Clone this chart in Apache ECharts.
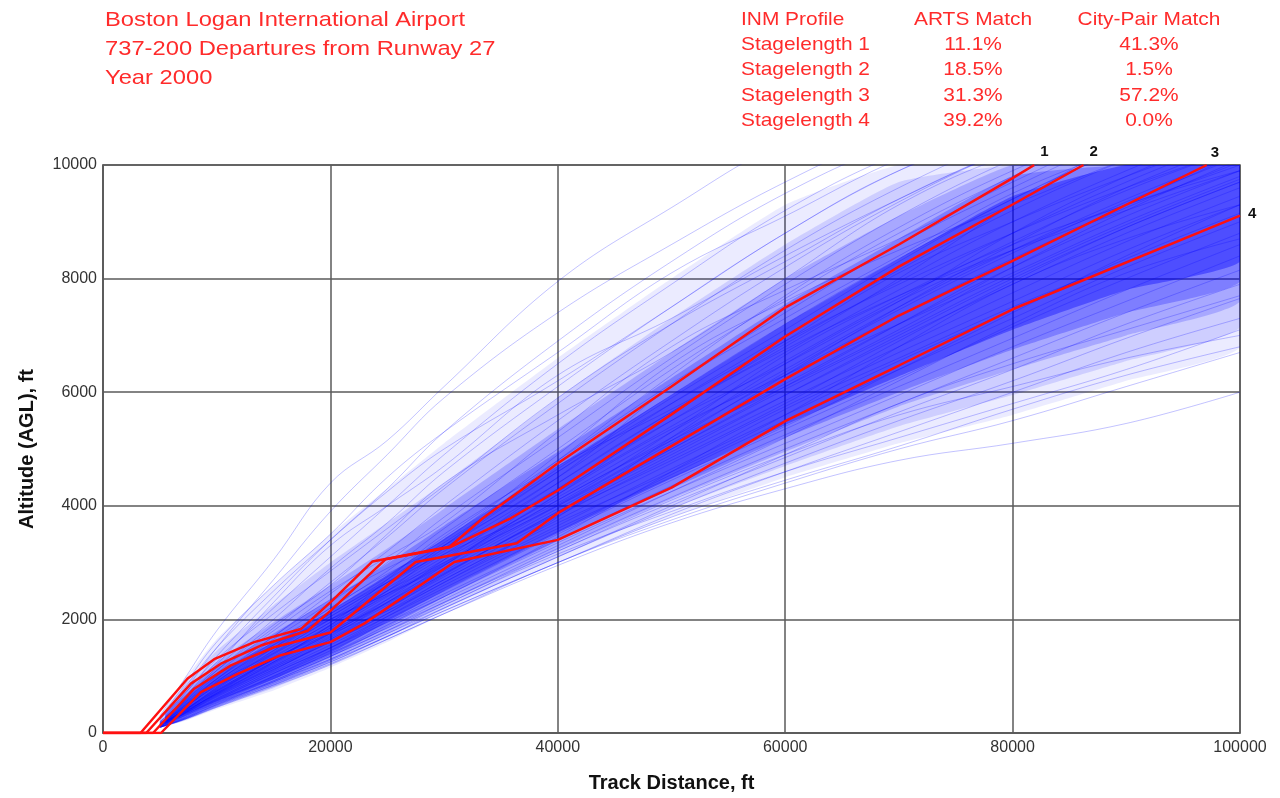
<!DOCTYPE html>
<html><head><meta charset="utf-8">
<script src="https://cdn.jsdelivr.net/npm/echarts@6/dist/echarts.min.js"></script>
<style>html,body{margin:0;padding:0;background:#fff}#c{width:1280px;height:798px}</style>
</head><body><div id="c"></div>
<script>
// ---- text content ----
const titleLines = ['Boston Logan International Airport', '737-200 Departures from Runway 27', 'Year 2000'];
const tableHeader = ['INM Profile', 'ARTS Match', 'City-Pair Match'];
const profiles = ['Stagelength 1', 'Stagelength 2', 'Stagelength 3', 'Stagelength 4'];
const artsMatch = ['11.1%', '18.5%', '31.3%', '39.2%'];
const cityPairMatch = ['41.3%', '1.5%', '57.2%', '0.0%'];
const xAxisTitle = 'Track Distance, ft';
const yAxisTitle = 'Altitude (AGL), ft';

// ---- INM profiles (red), track distance ft / altitude ft ----
const red1X = [0, 3300, 7440, 9780, 13300, 17400, 20000, 23700, 30500, 33400, 40000, 50000, 60000, 70000, 80000, 81900];
const red1Y = [0, 0, 960, 1300, 1600, 1830, 2300, 3020, 3280, 3780, 4750, 6100, 7490, 8600, 9770, 10000];
const red2X = [0, 3800, 7730, 10370, 13880, 18000, 20000, 24870, 30500, 35850, 40000, 50000, 60000, 70000, 80000, 86230];
const red2Y = [0, 0, 870, 1220, 1540, 1800, 2150, 3060, 3270, 3780, 4270, 5610, 6980, 8210, 9305, 10000];
const red3X = [0, 4400, 8020, 11250, 15050, 20000, 27500, 36400, 40000, 50000, 60000, 70000, 80000, 97070];
const red3Y = [0, 0, 780, 1190, 1510, 1770, 3010, 3340, 3870, 5050, 6230, 7350, 8310, 10000];
const red4X = [0, 5100, 8610, 11840, 15640, 20000, 23000, 30900, 40000, 50000, 60000, 70000, 80000, 100000];
const red4Y = [0, 0, 720, 1040, 1370, 1600, 1930, 3010, 3400, 4320, 5490, 6470, 7460, 9110];
const redNames = ['1', '2', '3', '4'];

// ---- ARTS radar tracks (blue), altitudes read at these track distances ----
const blueX = [5000, 7000, 10000, 15000, 20000, 25000, 30000, 40000, 50000, 60000, 70000, 80000, 90000, 100000];
const track01 = [300, 900, 1800, 3050, 4400, 5150, 6100, 7950, 9250, 10400, 11000, 11500, 12000, 12500];
const track02 = [250, 700, 1500, 2700, 3900, 4900, 5900, 7400, 8600, 9700, 10600, 11200, 11800, 12300];
const track03 = [250, 650, 1350, 2400, 3400, 4300, 5300, 6900, 8300, 9500, 10400, 11000, 11500, 12000];
const track04 = [220, 600, 1250, 2200, 3100, 4000, 4900, 6500, 7900, 9200, 10200, 10900, 11400, 12000];
const track05 = [200, 550, 1150, 2000, 2900, 3700, 4600, 6100, 7500, 8800, 9900, 10700, 11300, 11900];
const track06 = [200, 520, 1100, 1850, 2650, 3450, 4300, 5800, 7200, 8500, 9600, 10500, 11200, 11800];
const track07 = [180, 500, 1000, 1700, 2450, 3200, 4000, 5500, 6900, 8200, 9350, 10300, 11000, 11600];
const track08 = [180, 480, 950, 1650, 2300, 3000, 3800, 5200, 6600, 7900, 9100, 10100, 10900, 11500];
const track09 = [200, 500, 950, 1600, 2200, 2850, 3600, 5000, 6400, 7650, 8800, 9800, 10700, 11400];
const track10 = [170, 460, 900, 1550, 2150, 2750, 3450, 4800, 6150, 7400, 8600, 9600, 10500, 11200];
const track11 = [170, 440, 880, 1500, 2100, 2700, 3350, 4650, 5950, 7200, 8350, 9400, 10300, 11100];
const track12 = [160, 430, 850, 1450, 2050, 2650, 3250, 4500, 5800, 7000, 8150, 9200, 10100, 10900];
const track13 = [160, 420, 830, 1420, 2000, 2600, 3200, 4400, 5650, 6850, 7950, 9000, 9900, 10700];
const track14 = [150, 400, 800, 1380, 1950, 2550, 3150, 4300, 5500, 6700, 7800, 8800, 9700, 10500];
const track15 = [150, 390, 780, 1350, 1900, 2500, 3100, 4250, 5400, 6550, 7650, 8650, 9550, 10300];
const track16 = [150, 380, 760, 1300, 1850, 2450, 3050, 4150, 5300, 6400, 7500, 8500, 9400, 10200];
const track17 = [140, 370, 740, 1280, 1820, 2400, 2980, 4100, 5200, 6300, 7350, 8350, 9250, 10050];
const track18 = [140, 360, 720, 1250, 1780, 2350, 2900, 4000, 5100, 6150, 7200, 8200, 9100, 9900];
const track19 = [140, 350, 700, 1220, 1750, 2300, 2850, 3950, 5000, 6050, 7050, 8050, 8950, 9750];
const track20 = [130, 340, 690, 1200, 1720, 2250, 2800, 3900, 4950, 5950, 6950, 7900, 8800, 9600];
const track21 = [130, 330, 670, 1170, 1680, 2200, 2750, 3820, 4850, 5850, 6800, 7750, 8650, 9450];
const track22 = [130, 320, 650, 1150, 1650, 2150, 2700, 3750, 4750, 5750, 6700, 7600, 8500, 9300];
const track23 = [120, 310, 630, 1120, 1600, 2100, 2650, 3650, 4650, 5600, 6550, 7450, 8350, 9150];
const track24 = [120, 300, 610, 1080, 1550, 2050, 2550, 3550, 4550, 5500, 6400, 7300, 8200, 9000];
const track25 = [120, 290, 590, 1050, 1500, 2000, 2500, 3500, 4450, 5350, 6250, 7150, 8000, 8800];
const track26 = [110, 280, 570, 1000, 1450, 1950, 2450, 3400, 4350, 5250, 6100, 6950, 7800, 8600];
const track27 = [110, 270, 550, 980, 1400, 1900, 2400, 3350, 4250, 5100, 5950, 6800, 7600, 8400];
const track28 = [110, 260, 530, 950, 1380, 1850, 2300, 3250, 4150, 5000, 5800, 6600, 7400, 8150];
const track29 = [100, 250, 510, 920, 1350, 1800, 2250, 3200, 4050, 4850, 5650, 6400, 7200, 7900];
const track30 = [100, 240, 500, 900, 1300, 1750, 2200, 3100, 3950, 4750, 5500, 6200, 6950, 7650];
const track31 = [100, 230, 480, 870, 1250, 1700, 2150, 3000, 3850, 4600, 5300, 6000, 6700, 7300];
const track32 = [100, 220, 450, 820, 1200, 1650, 2100, 2950, 3700, 4300, 4800, 5100, 5450, 6000];
const track33 = [100, 230, 470, 850, 1250, 1700, 2150, 3000, 3800, 4450, 5050, 5700, 6300, 6800];
const track34 = [110, 240, 500, 900, 1300, 1750, 2250, 3150, 3900, 4600, 5200, 5800, 6400, 7100];
const track35 = [160, 420, 820, 1300, 1900, 2700, 3500, 4700, 5700, 6800, 8000, 9300, 10400, 11000];
const track36 = [140, 370, 800, 1450, 2100, 2650, 3150, 4050, 5300, 6650, 7700, 8600, 9300, 10000];
const track37 = [150, 400, 900, 1550, 2000, 2450, 3000, 4200, 5600, 6900, 8100, 9000, 9800, 10500];
const track38 = [130, 350, 700, 1250, 1900, 2500, 3000, 4000, 5050, 6300, 7500, 8600, 9600, 10400];
const track39 = [120, 330, 720, 1300, 1800, 2300, 2900, 4100, 5150, 6100, 7100, 8200, 9200, 10100];
const track40 = [170, 450, 880, 1400, 1950, 2600, 3300, 4600, 5800, 6900, 7900, 8800, 9600, 10300];
const track41 = [140, 360, 680, 1180, 1700, 2300, 2950, 4200, 5350, 6300, 7200, 8100, 9000, 9800];
const track42 = [120, 300, 600, 1100, 1650, 2200, 2800, 3850, 4800, 5800, 6900, 7950, 8900, 9700];
const track43 = [110, 280, 560, 1000, 1500, 2050, 2600, 3600, 4500, 5400, 6400, 7400, 8400, 9300];
const track44 = [150, 380, 740, 1250, 1750, 2350, 3050, 4400, 5650, 6750, 7700, 8500, 9200, 9900];
const track45 = [130, 320, 640, 1120, 1620, 2180, 2780, 3900, 5000, 6100, 7200, 8300, 9300, 10200];
const track46 = [280, 800, 1600, 2600, 3500, 4500, 5300, 6700, 8100, 9100, 10100, 10800, 11300, 11800];
const track47 = [240, 620, 1200, 2300, 3300, 4000, 4700, 6300, 7300, 8400, 9400, 10300, 11000, 11600];
const track48 = [200, 560, 1100, 1900, 2600, 3500, 4400, 5600, 6700, 8000, 9300, 10200, 10800, 11300];
const track49 = [190, 520, 1050, 1800, 2500, 3100, 3700, 5300, 6800, 7800, 8700, 9700, 10600, 11300];
const track50 = [170, 450, 950, 1700, 2350, 2900, 3400, 4900, 6500, 7600, 8500, 9300, 10100, 10800];
const track51 = [160, 420, 850, 1500, 2200, 2800, 3300, 4500, 6100, 7300, 8400, 9500, 10300, 11000];
const track52 = [140, 380, 780, 1400, 2000, 2450, 2950, 4300, 5500, 6500, 7600, 8800, 9800, 10600];
const track53 = [130, 340, 700, 1300, 1750, 2150, 2650, 3800, 5200, 6500, 7600, 8500, 9300, 9900];
const track54 = [120, 320, 660, 1150, 1600, 2100, 2700, 3700, 4600, 5600, 6800, 7900, 8700, 9300];
const track55 = [110, 290, 580, 1050, 1500, 1950, 2400, 3450, 4600, 5700, 6600, 7500, 8300, 9100];
const track56 = [100, 260, 540, 960, 1400, 1850, 2350, 3300, 4250, 5200, 6200, 7200, 8100, 8700];
const track57 = [100, 240, 490, 880, 1280, 1700, 2200, 3100, 4000, 4900, 5800, 6500, 7100, 7700];
const track58 = [100, 230, 460, 840, 1220, 1650, 2100, 3000, 3750, 4400, 5000, 5500, 6100, 6700];
const track59 = [110, 250, 520, 920, 1350, 1800, 2300, 3200, 4100, 4900, 5600, 6100, 6600, 7000];
const track60 = [150, 390, 760, 1300, 1850, 2500, 3250, 4600, 5900, 7100, 8300, 9400, 10300, 11000];
const track61 = [180, 470, 920, 1500, 2050, 2650, 3300, 4800, 6300, 7700, 8900, 9900, 10700, 11400];
const track62 = [230, 650, 1300, 2100, 2850, 3600, 4350, 5900, 7200, 8300, 9400, 10300, 11000, 11500];
const track63 = [260, 750, 1500, 2500, 3400, 4250, 5000, 6200, 7500, 8800, 9900, 10600, 11200, 11700];
const track64 = [140, 360, 740, 1330, 1880, 2420, 2960, 4020, 5150, 6350, 7450, 8450, 9350, 10150];
const track65 = [130, 330, 680, 1230, 1760, 2280, 2820, 3870, 4900, 5950, 7000, 8000, 8900, 9700];
const tracks = [track01, track02, track03, track04, track05, track06, track07, track08, track09, track10,
  track11, track12, track13, track14, track15, track16, track17, track18, track19, track20,
  track21, track22, track23, track24, track25, track26, track27, track28, track29, track30,
  track31, track32, track33, track34, track35, track36, track37, track38, track39, track40,
  track41, track42, track43, track44, track45, track46, track47, track48, track49, track50,
  track51, track52, track53, track54, track55, track56, track57, track58, track59, track60,
  track61, track62, track63, track64, track65];

// ---- density envelopes of the track bundle, outermost first ----
const bandX = [5500, 7000, 10000, 15000, 20000, 25000, 30000, 40000, 50000, 60000, 70000, 80000, 90000, 100000];
const env1Low = [150, 200, 420, 750, 1150, 1600, 2100, 3000, 3800, 4500, 5100, 5600, 6200, 6800];
const env1High = [420, 900, 1650, 2600, 3500, 4300, 5100, 6600, 8000, 9300, 10000, 10000, 10000, 10000];
const env2Low = [160, 220, 450, 790, 1200, 1680, 2180, 3100, 3950, 4700, 5400, 5950, 6550, 7150];
const env2High = [380, 800, 1450, 2250, 3000, 3700, 4400, 5900, 7300, 8600, 9700, 10000, 10000, 10000];
const env3Low = [170, 250, 480, 830, 1260, 1760, 2270, 3220, 4120, 4950, 5750, 6400, 7000, 7600];
const env3High = [340, 700, 1250, 1950, 2600, 3250, 3950, 5350, 6700, 8000, 9100, 10000, 10000, 10000];
const env4Low = [185, 280, 520, 890, 1330, 1860, 2390, 3380, 4300, 5200, 6000, 6750, 7400, 7950];
const env4High = [310, 620, 1150, 1750, 2350, 2980, 3650, 4950, 6250, 7550, 8700, 9800, 10000, 10000];
const env5Low = [200, 310, 560, 950, 1410, 1960, 2500, 3520, 4480, 5420, 6280, 7100, 7800, 8300];
const env5High = [290, 560, 1050, 1600, 2150, 2780, 3420, 4700, 5950, 7200, 8350, 9450, 10000, 10000];

const FONT = '"Liberation Sans", Arial, sans-serif';
const RED_TEXT = '#ff2b2b';

function bandSeries(low, high, color) {
  return {
    type: 'custom', silent: true, z: 1, animation: false, clip: true,
    data: [0],
    renderItem: function (params, api) {
      const pts = [];
      for (let i = 0; i < bandX.length; i++) pts.push(api.coord([bandX[i], high[i]]));
      for (let i = bandX.length - 1; i >= 0; i--) pts.push(api.coord([bandX[i], low[i]]));
      return { type: 'polygon', shape: { points: pts, smooth: 0.15 }, style: { fill: color } };
    }
  };
}

const series = [];
series.push(bandSeries(env1Low, env1High, 'rgba(0,0,255,0.08)'));
series.push(bandSeries(env2Low, env2High, 'rgba(0,0,255,0.12)'));
series.push(bandSeries(env3Low, env3High, 'rgba(0,0,255,0.18)'));
series.push(bandSeries(env4Low, env4High, 'rgba(0,0,255,0.25)'));
series.push(bandSeries(env5Low, env5High, 'rgba(0,0,255,0.38)'));
tracks.forEach(function (t) {
  series.push({
    type: 'line', silent: true, z: 2, showSymbol: false, smooth: 0.4, animation: false,
    data: blueX.map(function (x, i) { return [x, t[i]]; }),
    lineStyle: { color: 'rgba(0,0,255,0.24)', width: 1 }
  });
});
const redX = [red1X, red2X, red3X, red4X];
const redY = [red1Y, red2Y, red3Y, red4Y];
const endOffsets = [[-2, -13], [-2, -13], [-4, -12], [0, -2]];
for (let k = 0; k < 4; k++) {
  series.push({
    name: redNames[k], type: 'line', z: 3, showSymbol: false, animation: false,
    data: redX[k].map(function (x, i) { return [x, redY[k][i]]; }),
    lineStyle: { color: '#ff1010', width: 2.5 },
    endLabel: {
      show: true, formatter: redNames[k], offset: endOffsets[k],
      fontFamily: FONT, fontSize: 15, fontWeight: 'bold', color: '#111'
    }
  });
}

// header graphics
const graphics = [];
titleLines.forEach(function (t, i) {
  graphics.push({ type: 'text', x: 105, y: 20 + i * 29, scaleX: 1.13,
    style: { text: t, fontFamily: FONT, fontSize: 21, fill: RED_TEXT, align: 'left', verticalAlign: 'middle' } });
});
const rowsY = [20, 45, 70, 95.5, 121];
const colX = [741, 973, 1149];
graphics.push({ type: 'text', x: colX[0], y: rowsY[0], scaleX: 1.1,
  style: { text: tableHeader[0], fontFamily: FONT, fontSize: 19, fill: RED_TEXT, align: 'left', verticalAlign: 'middle' } });
graphics.push({ type: 'text', x: colX[1], y: rowsY[0], scaleX: 1.1,
  style: { text: tableHeader[1], fontFamily: FONT, fontSize: 19, fill: RED_TEXT, align: 'center', verticalAlign: 'middle' } });
graphics.push({ type: 'text', x: colX[2], y: rowsY[0], scaleX: 1.1,
  style: { text: tableHeader[2], fontFamily: FONT, fontSize: 19, fill: RED_TEXT, align: 'center', verticalAlign: 'middle' } });
for (let r = 0; r < profiles.length; r++) {
  graphics.push({ type: 'text', x: colX[0], y: rowsY[r + 1], scaleX: 1.1,
    style: { text: profiles[r], fontFamily: FONT, fontSize: 19, fill: RED_TEXT, align: 'left', verticalAlign: 'middle' } });
  graphics.push({ type: 'text', x: colX[1], y: rowsY[r + 1], scaleX: 1.1,
    style: { text: artsMatch[r], fontFamily: FONT, fontSize: 19, fill: RED_TEXT, align: 'center', verticalAlign: 'middle' } });
  graphics.push({ type: 'text', x: colX[2], y: rowsY[r + 1], scaleX: 1.1,
    style: { text: cityPairMatch[r], fontFamily: FONT, fontSize: 19, fill: RED_TEXT, align: 'center', verticalAlign: 'middle' } });
}

const chart = echarts.init(document.getElementById('c'), null, { renderer: 'canvas' });
chart.setOption({
  animation: false,
  backgroundColor: '#ffffff',
  grid: { left: 103, right: 40, top: 165, bottom: 64, show: true, borderColor: '#5a5a5a', borderWidth: 1.5, backgroundColor: 'transparent' },
  xAxis: {
    type: 'value', min: 0, max: 100000, interval: 20000,
    name: xAxisTitle, nameLocation: 'middle', nameGap: 40,
    nameTextStyle: { fontFamily: FONT, fontSize: 20, fontWeight: 'bold', color: '#111' },
    axisLine: { show: true, lineStyle: { color: '#5a5a5a', width: 1.5 } },
    axisTick: { show: false },
    axisLabel: { fontFamily: FONT, fontSize: 16, color: '#333', margin: 7, formatter: function (v) { return String(v); } },
    splitLine: { show: true, lineStyle: { color: '#5a5a5a', width: 1.5 } }
  },
  yAxis: {
    type: 'value', min: 0, max: 10000, interval: 2000,
    name: yAxisTitle, nameLocation: 'middle', nameGap: 66, nameRotate: 90,
    nameTextStyle: { fontFamily: FONT, fontSize: 20, fontWeight: 'bold', color: '#111' },
    axisLine: { show: true, lineStyle: { color: '#5a5a5a', width: 1.5 } },
    axisTick: { show: false },
    axisLabel: { fontFamily: FONT, fontSize: 16, color: '#333', margin: 6, formatter: function (v) { return String(v); } },
    splitLine: { show: true, lineStyle: { color: '#5a5a5a', width: 1.5 } }
  },
  graphic: graphics,
  series: series
});
</script></body></html>
